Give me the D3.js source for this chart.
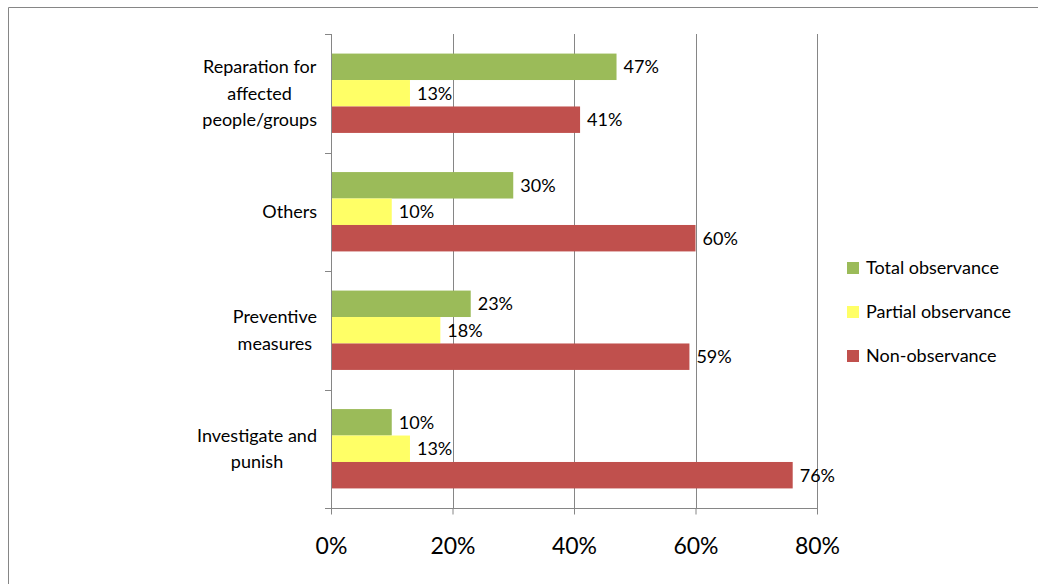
<!DOCTYPE html>
<html>
<head>
<meta charset="utf-8">
<script src="https://cdn.jsdelivr.net/npm/d3@7"></script>
<style>
  html, body { margin: 0; padding: 0; background: #fff; }
  svg { display: block; }
  text { font-family: Lato, "Open Sans", sans-serif; fill: #000; }
</style>
</head>
<body>
<svg id="chart" width="1038" height="584"></svg>
<script>
// Categories, top to bottom, each split into label lines
const categories = ["Reparation for affected people/groups", "Others", "Preventive measures", "Investigate and punish"];
const categoryLines = [["Reparation for", "affected", "people/groups"], ["Others"], ["Preventive", "measures"], ["Investigate and", "punish"]];
const seriesNames = ["Total observance", "Partial observance", "Non-observance"];
const seriesColors = ["#9BBB59", "#FFFF66", "#C0504D"];
const totalObservance = [47, 30, 23, 10];
const partialObservance = [13, 10, 18, 13];
const nonObservance = [41, 60, 59, 76];
const xTicks = [0, 20, 40, 60, 80];

const seriesValues = [totalObservance, partialObservance, nonObservance];

const svg = d3.select("#chart");

// chart frame
svg.append("path")
  .attr("d", "M8.5,584 V7.5 H1038")
  .attr("fill", "none").attr("stroke", "#868686").attr("stroke-width", 1);

const plot = { left: 331, right: 817, top: 34, bottom: 508 };

const x = d3.scaleLinear().domain([0, 80]).range([plot.left, plot.right]);
const y = d3.scaleBand().domain(categories).range([plot.top, plot.bottom]).paddingInner(0).paddingOuter(0);
const inner = d3.scaleBand().domain(seriesNames).range([0, y.bandwidth()]).paddingInner(0).paddingOuter(0.74);

// vertical gridlines
svg.append("g").selectAll("line").data(xTicks.filter(t => t > 0)).join("line")
  .attr("x1", d => Math.round(x(d)) + 0.5).attr("x2", d => Math.round(x(d)) + 0.5)
  .attr("y1", plot.top).attr("y2", plot.bottom)
  .attr("stroke", "#868686").attr("stroke-width", 1);

// bars with value labels
const groups = svg.append("g").selectAll("g").data(categories).join("g")
  .attr("transform", d => `translate(0,${y(d)})`);

groups.each(function (cat, ci) {
  const g = d3.select(this);
  seriesNames.forEach((s, si) => {
    const v = seriesValues[si][ci];
    g.append("rect")
      .attr("x", x(0)).attr("y", inner(s))
      .attr("width", x(v) - x(0)).attr("height", inner.bandwidth())
      .attr("fill", seriesColors[si]);
    g.append("text")
      .attr("x", x(v) + 7).attr("y", inner(s) + inner.bandwidth() / 2)
      .attr("dy", "0.35em").attr("font-size", 18)
      .text(v + "%");
  });
});

// x axis
const xAxis = d3.axisBottom(x).tickValues(xTicks).tickSize(6).tickPadding(23).tickFormat(d => d + "%");
const xg = svg.append("g").attr("transform", `translate(0,${plot.bottom + 0.5})`).call(xAxis);
xg.select(".domain").attr("stroke", "#868686").attr("d", `M${plot.left - 6},0H${plot.right + 1}`);
xg.selectAll(".tick line").attr("stroke", "#868686");
xg.selectAll(".tick text").attr("font-size", 23).attr("font-family", "Lato, 'Open Sans', sans-serif").attr("fill", "#000");

// y axis line and category boundary ticks
const yLine = svg.append("g");
yLine.append("line")
  .attr("x1", plot.left + 0.5).attr("x2", plot.left + 0.5)
  .attr("y1", plot.top).attr("y2", plot.bottom + 6)
  .attr("stroke", "#868686");
const boundaries = categories.map(c => y(c)).concat([plot.bottom]);
yLine.selectAll("line.tk").data(boundaries).join("line").attr("class", "tk")
  .attr("x1", plot.left - 6).attr("x2", plot.left)
  .attr("y1", d => Math.round(d) + 0.5).attr("y2", d => Math.round(d) + 0.5)
  .attr("stroke", "#868686");

// category labels: lines centered on each other, block right-aligned
const lineH = 26.5;
const labelRight = 317;
categories.forEach((cat, ci) => {
  const lines = categoryLines[ci];
  const cy = y(cat) + y.bandwidth() / 2;
  const t = svg.append("text").attr("font-size", 18).attr("text-anchor", "middle");
  const spans = lines.map((ln, li) => t.append("tspan")
    .attr("y", cy + (li - (lines.length - 1) / 2) * lineH)
    .attr("dy", "0.35em").text(ln));
  const w = d3.max(spans, s => s.node().getComputedTextLength());
  spans.forEach(s => s.attr("x", labelRight - w / 2));
});

// legend
const legend = svg.append("g").attr("transform", "translate(847,268)");
seriesNames.forEach((s, i) => {
  const g = legend.append("g").attr("transform", `translate(0,${i * 44})`);
  g.append("rect").attr("x", 0).attr("y", -6).attr("width", 12).attr("height", 12).attr("fill", seriesColors[i]);
  g.append("text").attr("x", 19).attr("y", 0).attr("dy", "0.35em").attr("font-size", 18).text(s);
});
</script>
</body>
</html>
